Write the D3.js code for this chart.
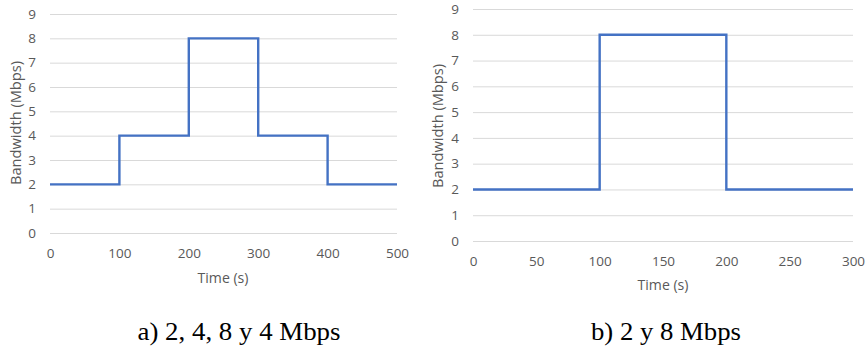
<!DOCTYPE html>
<html>
<head>
<meta charset="utf-8">
<script src="https://cdn.jsdelivr.net/npm/d3@7"></script>
<style>
  body { margin: 0; background: #fff; }
  svg text { font-family: "Open Sans", "Liberation Sans", sans-serif; }
</style>
</head>
<body>
<svg id="chart" width="868" height="357"></svg>
<script>
// chart a) 2, 4, 8 y 4 Mbps
var timeA = [0, 100, 200, 300, 400, 500];
var bwA = [2, 4, 8, 4, 2, 2];
var xTicksA = [0, 100, 200, 300, 400, 500];
// chart b) 2 y 8 Mbps
var timeB = [0, 100, 200, 300];
var bwB = [2, 8, 2, 2];
var xTicksB = [0, 50, 100, 150, 200, 250, 300];
var yTicks = [0, 1, 2, 3, 4, 5, 6, 7, 8, 9];
var captions = ["a) 2, 4, 8 y 4 Mbps", "b) 2 y 8 Mbps"];

var svg = d3.select("#chart");

function drawChart(cfg) {
  var x = d3.scaleLinear().domain([0, d3.max(cfg.xTicks)]).range([cfg.x0, cfg.x1]);
  var y = d3.scaleLinear().domain([0, 9]).range([cfg.y0, cfg.y1]);
  var g = svg.append("g");

  // gridlines + y labels
  g.append("g")
    .attr("transform", "translate(" + cfg.x0 + ",0)")
    .call(d3.axisLeft(y).tickValues(yTicks).tickSize(-(cfg.x1 - cfg.x0)).tickPadding(cfg.x0 - cfg.ylab))
    .call(function (a) {
      a.select(".domain").remove();
      a.selectAll("line").attr("stroke", "#d9d9d9").attr("stroke-width", 1);
      a.selectAll("text").attr("fill", "#595959").style("font-size", "13.5px");
    });

  // x axis labels
  g.append("g")
    .attr("transform", "translate(0," + cfg.y0 + ")")
    .call(d3.axisBottom(x).tickValues(cfg.xTicks).tickSize(0).tickPadding(cfg.xlabPad))
    .call(function (a) {
      a.select(".domain").remove();
      a.selectAll("text").attr("fill", "#595959").style("font-size", "13.5px");
    });

  var line = d3.line()
    .x(function (d) { return x(d[0]); })
    .y(function (d) { return y(d[1]); })
    .curve(d3.curveStepAfter);

  g.append("path")
    .datum(d3.zip(cfg.time, cfg.bw))
    .attr("fill", "none")
    .attr("stroke", "#4472c4")
    .attr("stroke-width", 2.4)
    .attr("d", line);

  g.append("text")
    .attr("x", cfg.xtitleX)
    .attr("y", cfg.xtitleY)
    .attr("text-anchor", "middle")
    .attr("fill", "#595959")
    .attr("textLength", 51)
    .attr("lengthAdjust", "spacingAndGlyphs")
    .style("font-size", "14px")
    .text("Time (s)");

  g.append("text")
    .attr("transform", "translate(" + cfg.ytitleX + "," + cfg.ytitleY + ") rotate(-90)")
    .attr("text-anchor", "middle")
    .attr("fill", "#595959")
    .attr("textLength", 124)
    .attr("lengthAdjust", "spacingAndGlyphs")
    .style("font-size", "14.5px")
    .text("Bandwidth (Mbps)");

  g.append("text")
    .attr("x", cfg.capX)
    .attr("y", 340)
    .attr("text-anchor", "middle")
    .attr("fill", "#000")
    .attr("textLength", cfg.capW)
    .attr("lengthAdjust", "spacingAndGlyphs")
    .style("font-family", "'Liberation Serif', 'DejaVu Serif', serif")
    .style("font-size", "26px")
    .text(cfg.caption);
}

drawChart({
  time: timeA, bw: bwA, xTicks: xTicksA,
  x0: 50, x1: 397, y0: 233, y1: 14, ylab: 36, xlabPad: 15,
  xtitleX: 223, xtitleY: 283, ytitleX: 21, ytitleY: 123,
  capX: 239, capW: 203, caption: captions[0]
});
drawChart({
  time: timeB, bw: bwB, xTicks: xTicksB,
  x0: 473, x1: 853, y0: 241, y1: 9, ylab: 459, xlabPad: 15,
  xtitleX: 663, xtitleY: 290, ytitleX: 443, ytitleY: 126,
  capX: 666, capW: 150, caption: captions[1]
});
</script>
</body>
</html>
